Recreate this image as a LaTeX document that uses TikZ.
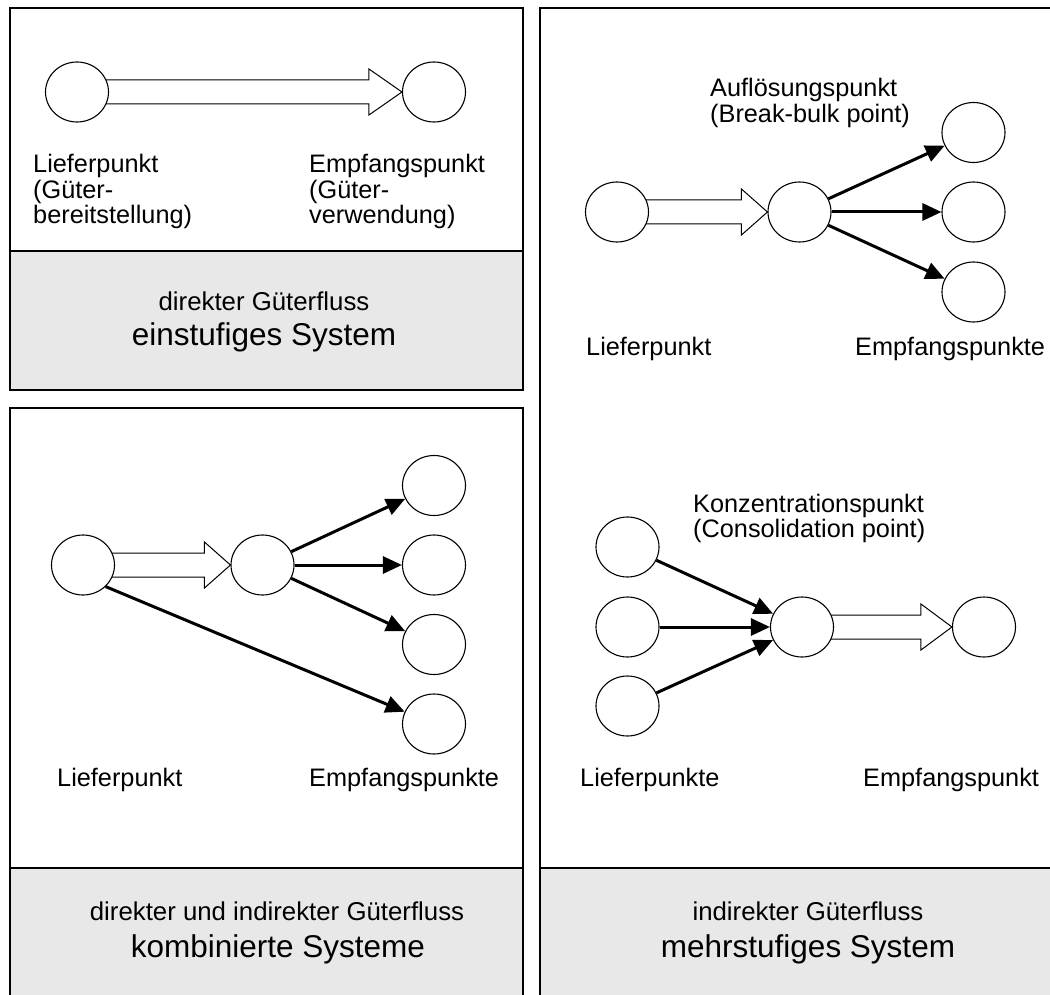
\documentclass[tikz,border=0pt]{standalone}
\usepackage{fontspec}
\setmainfont{Liberation Sans}
\usetikzlibrary{shapes.geometric,arrows.meta,calc}
\definecolor{capgray}{RGB}{232,232,232}
\pgfdeclarelayer{back}
\pgfsetlayers{back,main}
\newcommand\bigflow[3]{%
  \begin{pgfonlayer}{back}
  \draw[line width=1pt,fill=white] ($(#1.center)+(0,-12)$) -- ($(#2.west)+(-#3,-12)$) -- ++(0,-11) -- (#2.west)
    -- ($(#2.west)+(-#3,23)$) -- ++(0,-11) -- ($(#1.center)+(0,12)$) -- cycle;
  \end{pgfonlayer}}
\begin{document}
\begin{tikzpicture}
			[x=1pt,y=-1pt,
			spot/.style={ellipse,draw,line width=1.1pt,fill=white,minimum width=63pt,minimum height=60pt,inner sep=0pt},
			flow/.style={->,line width=3pt},
			lbl/.style={anchor=base west,inner sep=0pt,align=left,font=\fontsize{25.3}{25.5}\selectfont},
			capsmall/.style={anchor=base,inner sep=0pt,font=\fontsize{25.8}{30}\selectfont},
			capbig/.style={anchor=base,inner sep=0pt,font=\fontsize{31.5}{36}\selectfont},
			panel/.style={line width=2pt},
			>={Triangle[length=19pt,width=17pt]}]
			\useasboundingbox (0,0) rectangle (1050,995);
			\clip (0,0) rectangle (1050,995);
			\fill[capgray] (10,251) rectangle (523,390);
			\fill[capgray] (10,868) rectangle (523,1010);
			\fill[capgray] (540,868) rectangle (1060,1010);
			\draw[panel] (10,8) rectangle (523,390) (10,251)--(523,251);
			\draw[panel] (10,408) rectangle (523,1010) (10,868)--(523,868);
			\draw[panel] (540,8) rectangle (1060,1010) (540,868)--(1060,868);
			\node[spot,name=s1] at (77,92) {};
			\node[spot,name=e1] at (434,92) {};
			\bigflow{s1}{e1}{33}
			\node[lbl,name=ls1] at (33,224) {Lieferpunkt\\(Güter-\\bereitstellung)};
			\node[lbl,name=le1] at (309,224) {Empfangspunkt\\(Güter-\\verwendung)};
			\node[capsmall,name=c1a] at (264,310) {direkter Güterfluss};
			\node[capbig,name=c1b] at (264,345) {einstufiges System};
			\node[spot,name=s2] at (83,565) {};
			\node[spot,name=h2] at (262.5,565) {};
			\node[spot,name=e2a] at (434,485.5) {};
			\node[spot,name=e2b] at (434,565) {};
			\node[spot,name=e2c] at (434,644.5) {};
			\node[spot,name=e2d] at (434,724) {};
			\bigflow{s2}{h2}{26}
			\draw[flow](h2)--(e2a);
			\draw[flow](h2)--(e2b);
			\draw[flow](h2)--(e2c);
			\draw[flow](s2.south east)--(e2d);
			\node[lbl,name=ls2] at (57,786) {Lieferpunkt};
			\node[lbl,name=le2] at (309,786) {Empfangspunkte};
			\node[capsmall,name=c2a] at (277,920) {direkter und indirekter Güterfluss};
			\node[capbig,name=c2b] at (278,957) {kombinierte Systeme};
			\node[spot,name=s3] at (617,212) {};
			\node[spot,name=h3] at (799.5,212) {};
			\node[spot,name=e3a] at (973.5,132.5) {};
			\node[spot,name=e3b] at (973.5,212) {};
			\node[spot,name=e3c] at (973.5,292) {};
			\bigflow{s3}{h3}{26}
			\draw[flow](h3)--(e3a);
			\draw[flow](h3)--(e3b);
			\draw[flow](h3)--(e3c);
			\node[lbl,name=lh3] at (710,122.5) {Auflösungspunkt\\(Break-bulk point)};
			\node[lbl,name=ls3] at (586,355) {Lieferpunkt};
			\node[lbl,name=le3] at (855,355) {Empfangspunkte};
			\node[spot,name=s4a] at (627.5,547) {};
			\node[spot,name=s4b] at (627.5,627) {};
			\node[spot,name=s4c] at (627.5,706) {};
			\node[spot,name=h4] at (802,627) {};
			\node[spot,name=e4] at (984,627) {};
			\draw[flow](s4a)--(h4);
			\draw[flow](s4b)--(h4);
			\draw[flow](s4c)--(h4);
			\bigflow{h4}{e4}{31}
			\node[lbl,name=lh4] at (693,537.5) {Konzentrationspunkt\\(Consolidation point)};
			\node[lbl,name=ls4] at (580,786) {Lieferpunkte};
			\node[lbl,name=le4] at (863,786) {Empfangspunkt};
			\node[capsmall,name=c3a] at (808,920) {indirekter Güterfluss};
			\node[capbig,name=c3b] at (808,957) {mehrstufiges System};
		\end{tikzpicture}
\end{document}
